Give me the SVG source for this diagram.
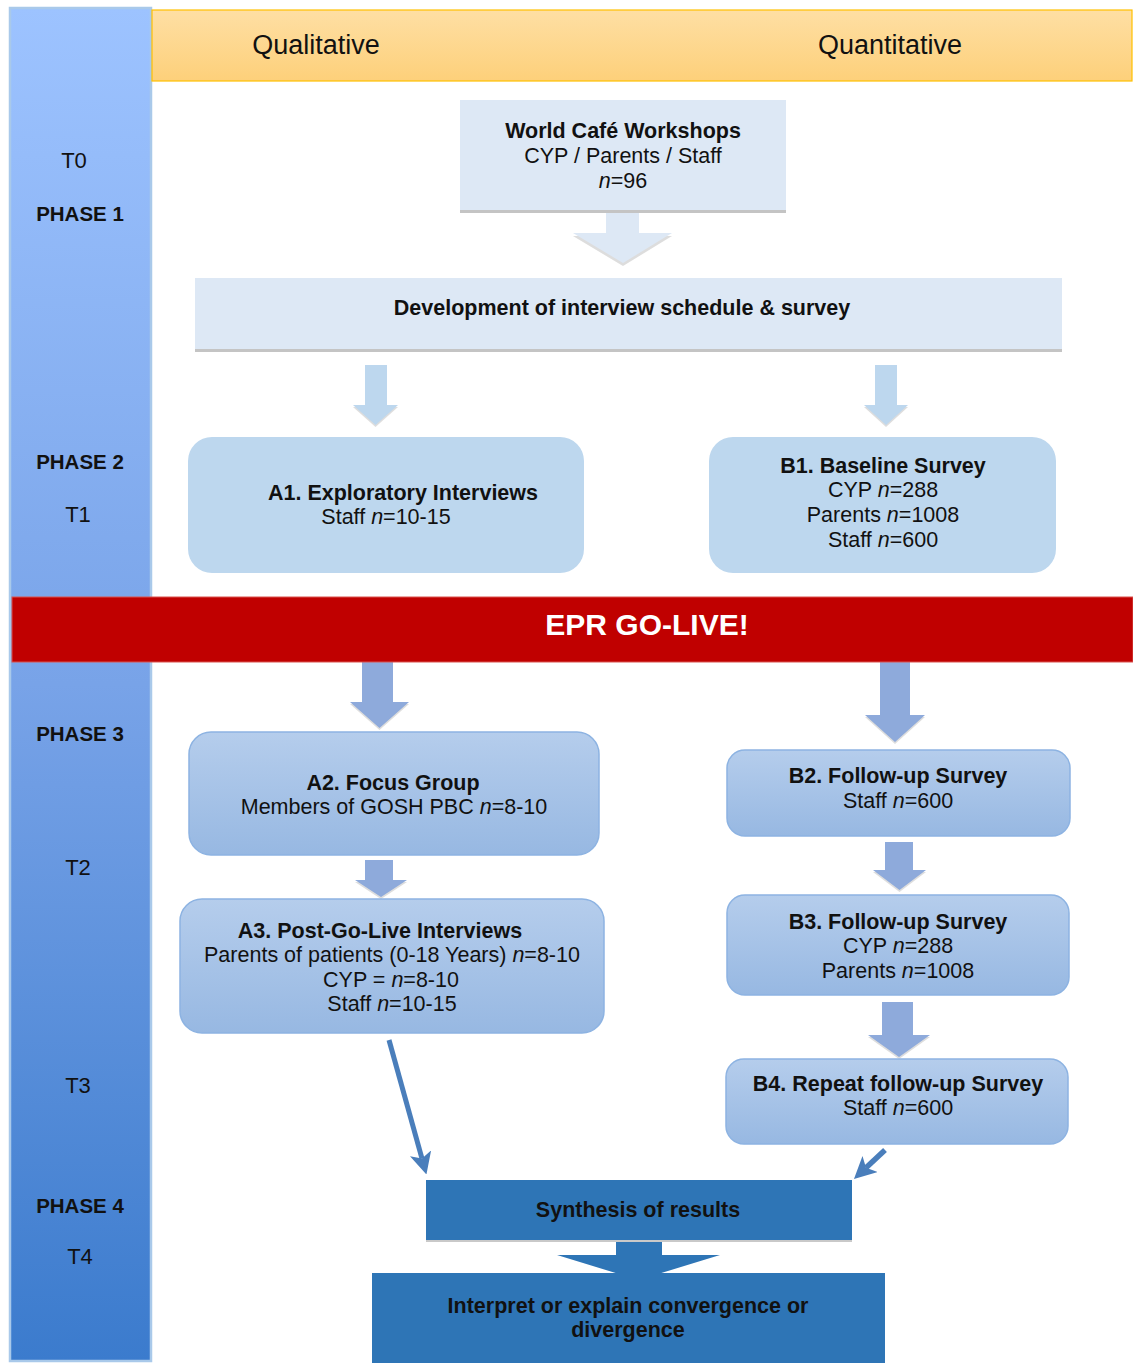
<svg xmlns="http://www.w3.org/2000/svg" width="1133" height="1363" viewBox="0 0 1133 1363">
<defs>
<linearGradient id="colGrad" x1="0" y1="0" x2="0" y2="1">
<stop offset="0" stop-color="#9dc3ff"/>
<stop offset="0.5" stop-color="#78a3e8"/>
<stop offset="1" stop-color="#3b7bcd"/>
</linearGradient>
<linearGradient id="hdrGrad" x1="0" y1="0" x2="0" y2="1">
<stop offset="0" stop-color="#fedfa4"/>
<stop offset="1" stop-color="#fdd07a"/>
</linearGradient>
<linearGradient id="boxGrad" x1="0" y1="0" x2="0" y2="1">
<stop offset="0" stop-color="#b5cdec"/>
<stop offset="1" stop-color="#97b8e2"/>
</linearGradient>
<marker id="head" viewBox="0 0 20 20" refX="5" refY="10" markerWidth="22" markerHeight="22" markerUnits="userSpaceOnUse" orient="auto">
<path d="M0,0 L20,10 L0,20 L5,10 z" fill="#4a7ebb"/>
</marker>
</defs>
<style>
text{font-family:"Liberation Sans",Arial,sans-serif;fill:#111;text-anchor:middle}
.hdr{font-size:27px}
.ph{font-size:20.5px;font-weight:bold}
.tl{font-size:22px}
.b{font-size:21.5px}
.bt{font-size:21.5px;font-weight:bold}
.it{font-style:italic}
.rbox{fill:url(#boxGrad);stroke:#8db3e2;stroke-width:1.5}
.lbox{fill:#bdd7ee}
.pbox{fill:#dde8f5}
.shadow{fill:#c4c4c4}
.arrL{fill:#bdd7ee}
.arrM{fill:#8eaadb}
.arrS{fill:#c6c6c6;opacity:0.6}
</style>
<rect width="1133" height="1363" fill="#ffffff"/>

<g id="timeline">
<rect x="10" y="8" width="141" height="1353" fill="url(#colGrad)" stroke="#a9c9ea" stroke-width="2.5"/>
<text class="tl" x="74" y="168">T0</text>
<text class="ph" x="80" y="221">PHASE 1</text>
<text class="ph" x="80" y="469">PHASE 2</text>
<text class="tl" x="78" y="522">T1</text>
<text class="ph" x="80" y="741">PHASE 3</text>
<text class="tl" x="78" y="875">T2</text>
<text class="tl" x="78" y="1093">T3</text>
<text class="ph" x="80" y="1213">PHASE 4</text>
<text class="tl" x="80" y="1264">T4</text>
</g>

<g id="header">
<rect x="152" y="10" width="980" height="71" fill="url(#hdrGrad)" stroke="#ffc000" stroke-width="1.2"/>
<text class="hdr" x="316" y="54">Qualitative</text>
<text class="hdr" x="890" y="54">Quantitative</text>
</g>

<g id="connectors">
<polygon class="arrS" points="606,213 639,213 639,236 672,236 623,266 573,236 606,236"/>
<polygon fill="#dde8f5" points="606,210 639,210 639,233 672,233 623,263 573,233 606,233"/>
<polygon class="arrS" points="365,367 387,367 387,407 398,407 375.5,427 353,407 365,407"/>
<polygon class="arrL" points="365,365 387,365 387,405 398,405 375.5,425 353,405 365,405"/>
<polygon class="arrS" points="875,367 897,367 897,407 908,407 886,427 864,407 875,407"/>
<polygon class="arrL" points="875,365 897,365 897,405 908,405 886,425 864,405 875,405"/>
<polygon class="arrS" points="362,664 393,664 393,704 409,704 379.5,730 350,704 362,704"/>
<polygon class="arrM" points="362,662 393,662 393,702 409,702 379.5,728 350,702 362,702"/>
<polygon class="arrS" points="880,664 910,664 910,717 925,717 895,744 865,717 880,717"/>
<polygon class="arrM" points="880,662 910,662 910,715 925,715 895,742 865,715 880,715"/>
<polygon class="arrS" points="365,862 393,862 393,882 407,882 381,899 355,882 365,882"/>
<polygon class="arrM" points="365,860 393,860 393,880 407,880 381,897 355,880 365,880"/>
<polygon class="arrS" points="885,844 913,844 913,872 926,872 899.5,892 873,872 885,872"/>
<polygon class="arrM" points="885,842 913,842 913,870 926,870 899.5,890 873,870 885,870"/>
<polygon class="arrS" points="882,1004 913,1004 913,1037 930,1037 899,1059 868,1037 882,1037"/>
<polygon class="arrM" points="882,1002 913,1002 913,1035 930,1035 899,1057 868,1035 882,1035"/>
<line x1="389" y1="1040" x2="422" y2="1158.6" stroke="#4a7ebb" stroke-width="5" marker-end="url(#head)"/>
<line x1="885" y1="1150" x2="866" y2="1167.8" stroke="#4a7ebb" stroke-width="5.5" marker-end="url(#head)"/>
<polygon fill="#2e75b6" points="616,1238 662,1238 662,1255 720,1255 638.5,1280 557,1255 616,1255"/>
</g>

<g id="worldcafe">
<rect class="shadow" x="460" y="103" width="326" height="110"/>
<rect class="pbox" x="460" y="100" width="326" height="110"/>
<text class="bt" x="623" y="138">World Café Workshops</text>
<text class="b" x="623" y="163">CYP / Parents / Staff</text>
<text class="b" x="623" y="188"><tspan class="it">n</tspan>=96</text>
</g>

<g id="development">
<rect class="shadow" x="195" y="281" width="867" height="71"/>
<rect class="pbox" x="195" y="278" width="867" height="71"/>
<text class="bt" x="622" y="315">Development of interview schedule &amp; survey</text>
</g>

<g id="a1">
<rect class="lbox" x="188" y="437" width="396" height="136" rx="24"/>
<text class="bt" x="403" y="500">A1. Exploratory Interviews</text>
<text class="b" x="386" y="524">Staff <tspan class="it">n</tspan>=10-15</text>
</g>

<g id="b1">
<rect class="lbox" x="709" y="437" width="347" height="136" rx="24"/>
<text class="bt" x="883" y="473">B1. Baseline Survey</text>
<text class="b" x="883" y="497">CYP <tspan class="it">n</tspan>=288</text>
<text class="b" x="883" y="522">Parents <tspan class="it">n</tspan>=1008</text>
<text class="b" x="883" y="547">Staff <tspan class="it">n</tspan>=600</text>
</g>

<g id="golive">
<rect x="12" y="597" width="1121" height="65" fill="#c00000" stroke="#d9534f" stroke-width="1"/>
<text x="647" y="635" style="font-size:30px;font-weight:bold;fill:#ffffff">EPR GO-LIVE!</text>
</g>

<g id="a2">
<rect class="rbox" x="189" y="732" width="410" height="123" rx="22"/>
<text class="bt" x="393" y="790">A2. Focus Group</text>
<text class="b" x="394" y="814">Members of GOSH PBC <tspan class="it">n</tspan>=8-10</text>
</g>

<g id="a3">
<rect class="rbox" x="180" y="899" width="424" height="134" rx="22"/>
<text class="bt" x="380" y="938">A3. Post-Go-Live Interviews</text>
<text class="b" x="392" y="962">Parents of patients (0-18 Years) <tspan class="it">n</tspan>=8-10</text>
<text class="b" x="391" y="987">CYP = <tspan class="it">n</tspan>=8-10</text>
<text class="b" x="392" y="1011">Staff <tspan class="it">n</tspan>=10-15</text>
</g>

<g id="b2">
<rect class="rbox" x="727" y="750" width="343" height="86" rx="18"/>
<text class="bt" x="898" y="783">B2. Follow-up Survey</text>
<text class="b" x="898" y="808">Staff <tspan class="it">n</tspan>=600</text>
</g>

<g id="b3">
<rect class="rbox" x="727" y="895" width="342" height="100" rx="18"/>
<text class="bt" x="898" y="929">B3. Follow-up Survey</text>
<text class="b" x="898" y="953">CYP <tspan class="it">n</tspan>=288</text>
<text class="b" x="898" y="978">Parents <tspan class="it">n</tspan>=1008</text>
</g>

<g id="b4">
<rect class="rbox" x="726" y="1059" width="342" height="85" rx="18"/>
<text class="bt" x="898" y="1091">B4. Repeat follow-up Survey</text>
<text class="b" x="898" y="1115">Staff <tspan class="it">n</tspan>=600</text>
</g>

<g id="synthesis">
<rect x="426" y="1182" width="426" height="60" fill="#c9c9c9"/>
<rect x="426" y="1180" width="426" height="60" fill="#2e75b6"/>
<text class="bt" x="638" y="1217">Synthesis of results</text>
</g>

<g id="interpret">
<rect x="372" y="1273" width="513" height="90" fill="#2e75b6"/>
<text class="bt" x="628" y="1313">Interpret or explain convergence or</text>
<text class="bt" x="628" y="1337">divergence</text>
</g>
</svg>
